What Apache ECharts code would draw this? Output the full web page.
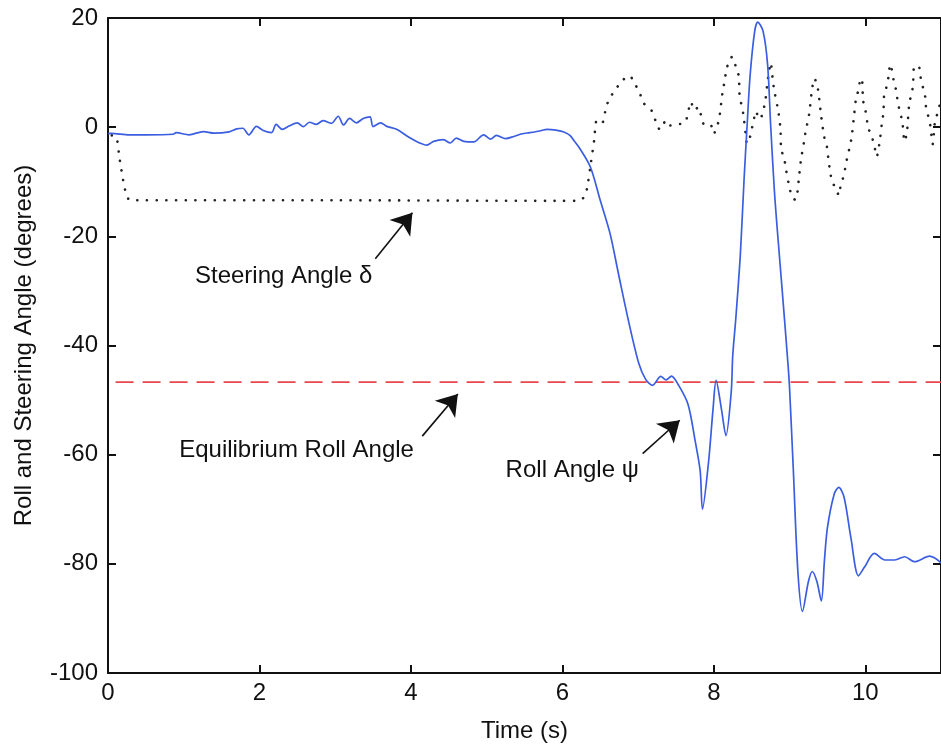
<!DOCTYPE html>
<html>
<head>
<meta charset="utf-8">
<script src="https://cdn.jsdelivr.net/npm/echarts@6/dist/echarts.min.js"></script>
<style>
  html, body { margin: 0; padding: 0; background: #ffffff; }
  #chart { width: 941px; height: 748px; }
</style>
</head>
<body>
<div id="chart"></div>
<script>
// ---- Roll angle ψ (blue, solid) ----
const rollTime = [0,0.04,0.28,0.5,0.86,0.9,1.07,1.26,1.4,1.6,1.7,1.78,1.86,1.96,2.05,2.16,2.22,2.3,2.39,2.5,2.58,2.66,2.75,2.84,2.95,3.04,3.11,3.19,3.28,3.37,3.46,3.5,3.6,3.68,3.81,3.98,4.1,4.21,4.3,4.43,4.52,4.6,4.7,4.83,4.96,5.05,5.13,5.25,5.36,5.47,5.57,5.7,5.8,5.93,6.02,6.1,6.15,6.23,6.37,6.5,6.63,6.74,6.88,7.01,7.1,7.19,7.3,7.37,7.44,7.54,7.66,7.75,7.82,7.85,7.93,7.99,8.03,8.1,8.16,8.23,8.25,8.29,8.35,8.4,8.44,8.48,8.54,8.58,8.65,8.71,8.75,8.8,8.84,8.9,8.98,9.0,9.05,9.11,9.17,9.25,9.3,9.36,9.42,9.46,9.5,9.59,9.65,9.72,9.81,9.91,9.99,10.12,10.26,10.39,10.52,10.65,10.85,11.0];
const rollAngle = [-1.2,-1.15,-1.4,-1.4,-1.3,-1.0,-1.4,-0.8,-1.1,-0.85,-0.3,-0.2,-1.4,0.15,-0.6,-1.0,0.5,-0.4,0.2,0.8,0.1,0.9,0.5,1.2,0.7,2.0,0.4,1.6,0.8,1.6,1.9,0.1,0.8,0.15,-0.4,-1.9,-2.8,-3.3,-2.6,-2.3,-2.9,-2.0,-2.6,-2.7,-1.4,-2.2,-1.5,-2.1,-1.7,-1.2,-1.0,-0.7,-0.4,-0.6,-0.9,-1.5,-2.4,-3.9,-7.3,-13.4,-19.5,-26.8,-35.9,-43.3,-46.2,-47.3,-45.65,-46.3,-45.6,-47.4,-50.8,-57.2,-63.0,-70.0,-61.4,-51.6,-46.4,-51.6,-56.5,-48.5,-41.8,-35.1,-23.4,-9.4,0.4,9.6,17.6,19.25,17.6,11.5,0.5,-11.7,-19.1,-29.4,-43.5,-47.8,-62.8,-81.4,-88.7,-83.2,-81.4,-83.2,-86.8,-79.5,-73.4,-67.2,-66.0,-67.8,-75.2,-82.2,-80.6,-78.1,-79.3,-79.3,-78.7,-79.6,-78.6,-79.8];

// ---- Steering angle δ (black, dotted) ----
const steerTime = [0.05,0.11,0.15,0.17,0.19,0.21,0.24,0.28,0.35,3.0,5.93,6.2,6.29,6.33,6.37,6.42,6.455,6.52,6.585,6.65,6.716,6.78,6.886,6.95,7.02,7.07,7.18,7.23,7.29,7.37,7.42,7.49,7.62,7.70,7.74,7.80,7.83,7.87,7.95,8.0,8.03,8.07,8.12,8.15,8.16,8.21,8.24,8.29,8.33,8.34,8.39,8.42,8.44,8.47,8.5,8.53,8.55,8.61,8.65,8.68,8.71,8.73,8.75,8.78,8.80,8.85,8.88,8.89,8.93,8.95,9.0,9.04,9.08,9.11,9.12,9.15,9.19,9.21,9.26,9.29,9.33,9.37,9.39,9.42,9.46,9.49,9.51,9.54,9.57,9.61,9.65,9.68,9.72,9.74,9.77,9.80,9.82,9.85,9.88,9.92,9.93,9.96,9.97,10.0,10.04,10.09,10.13,10.15,10.19,10.22,10.24,10.25,10.29,10.31,10.33,10.38,10.41,10.43,10.46,10.49,10.52,10.55,10.58,10.61,10.63,10.65,10.71,10.73,10.76,10.79,10.8,10.83,10.86,10.89,10.92,10.95,11.0];
const steerAngle = [-1.5,-1.8,-5.5,-7.3,-8.8,-10.6,-12.1,-13.3,-13.4,-13.4,-13.5,-13.5,-12.75,-10.9,-7.2,-2.4,1.2,0.7,4.0,5.85,7.16,8.4,9.4,8.1,6.3,4.46,3.0,1.2,-0.44,1.2,0.3,0.5,0.9,4.6,3.1,3.7,2.2,0.6,0.6,-1.2,-0.3,1.5,6.9,8.7,10.55,12.0,12.9,11.1,9.3,6.0,2.3,-1.2,-3.0,-2.2,-0.4,1.4,2.9,1.45,2.9,4.8,8.4,10.3,11.8,8.5,6.6,3.0,-0.3,-4.0,-5.8,-7.5,-11.1,-13.0,-13.3,-11.3,-9.8,-6.1,-2.8,-1.0,2.5,6.2,8.9,7.3,5.4,1.8,-1.9,-3.3,-5.5,-8.5,-10.3,-11.0,-12.5,-10.3,-8.8,-7.0,-5.1,-3.3,-1.8,1.9,5.4,7.2,8.9,8.3,5.0,3.2,-0.1,-1.9,-4.1,-5.4,-2.7,0.8,2.7,6.0,7.8,9.7,11.5,8.2,6.6,4.5,2.7,0.9,-2.6,-0.9,4.2,6.1,7.5,11.2,11.0,9.2,7.4,5.7,3.9,2.1,0.2,-3.1,1.0,2.4,5.0];

// ---- Equilibrium roll angle (red, dashed) ----
const equilibriumTime = [0.1, 11.0];
const equilibriumAngle = [-46.7, -46.7];

// ---- Annotations (data coordinates) ----
const annotationText = ['Steering Angle δ', 'Equilibrium Roll Angle', 'Roll Angle ψ'];
const annotationAt   = [[2.32, -27.3], [2.49, -59.2], [6.13, -62.9]];
const arrowFrom      = [[3.53, -24.1], [4.15, -56.6], [7.06, -59.8]];
const arrowTo        = [[4.02, -15.7], [4.62, -48.9], [7.55, -53.7]];

const zip = (a, b) => a.map((x, i) => [x, b[i]]);

const FONT = "'Liberation Sans', Arial, sans-serif";
const axisLine = { show: true, onZero: false, lineStyle: { color: '#111', width: 2 } };
const axisTick = { show: true, inside: true, length: 8, lineStyle: { color: '#111', width: 2 } };

const chart = echarts.init(document.getElementById('chart'), null, { renderer: 'canvas' });
chart.setOption({
  animation: false,
  backgroundColor: '#ffffff',
  grid: { left: 108, right: 0, top: 18, bottom: 75, containLabel: false },
  xAxis: [
    {
      type: 'value', min: 0, max: 11, interval: 2, position: 'bottom',
      name: 'Time (s)', nameLocation: 'middle', nameGap: 46,
      nameTextStyle: { fontFamily: FONT, fontSize: 24, color: '#111' },
      axisLine, axisTick,
      axisLabel: { fontFamily: FONT, fontSize: 24, color: '#111', margin: 8, showMaxLabel: false },
      splitLine: { show: false }
    },
    {
      type: 'value', min: 0, max: 11, interval: 2, position: 'top',
      axisLine, axisTick, axisLabel: { show: false }, splitLine: { show: false }
    }
  ],
  yAxis: [
    {
      type: 'value', min: -100, max: 20, interval: 20, position: 'left',
      name: 'Roll and Steering Angle (degrees)', nameLocation: 'middle', nameGap: 72,
      nameTextStyle: { fontFamily: FONT, fontSize: 24, color: '#111' },
      axisLine, axisTick,
      axisLabel: { fontFamily: FONT, fontSize: 24, color: '#111', margin: 10 },
      splitLine: { show: false }
    },
    {
      type: 'value', min: -100, max: 20, interval: 20, position: 'right',
      axisLine, axisTick, axisLabel: { show: false }, splitLine: { show: false }
    }
  ],
  series: [
    {
      name: 'Steering Angle', type: 'line', data: zip(steerTime, steerAngle),
      showSymbol: false, symbol: 'none', smooth: 0.3, z: 2,
      lineStyle: { color: '#222', width: 2.6, type: [0.1, 9.6], cap: 'round' }
    },
    {
      name: 'Equilibrium Roll Angle', type: 'line', data: zip(equilibriumTime, equilibriumAngle),
      showSymbol: false, symbol: 'none', z: 3,
      lineStyle: { color: '#e8474c', width: 1.8, type: [18, 9] },
      markLine: {
        silent: true, animation: false,
        symbol: ['none', 'arrow'], symbolSize: 20,
        lineStyle: { color: '#111', width: 1.6, type: 'solid' },
        label: { show: false },
        data: arrowFrom.map((p, i) => [{ coord: p }, { coord: arrowTo[i] }])
      },
      markPoint: {
        silent: true, animation: false,
        symbol: 'rect', symbolSize: 1,
        itemStyle: { color: 'transparent' },
        label: { show: true, position: 'inside', fontFamily: FONT, fontSize: 24, color: '#111',
                 formatter: p => p.name },
        data: annotationAt.map((p, i) => ({ coord: p, name: annotationText[i] }))
      }
    },
    {
      name: 'Roll Angle', type: 'line', data: zip(rollTime, rollAngle),
      showSymbol: false, symbol: 'none', smooth: 0.3, z: 4,
      lineStyle: { color: '#3b5ee0', width: 1.7 }
    }
  ]
});
</script>
</body>
</html>
